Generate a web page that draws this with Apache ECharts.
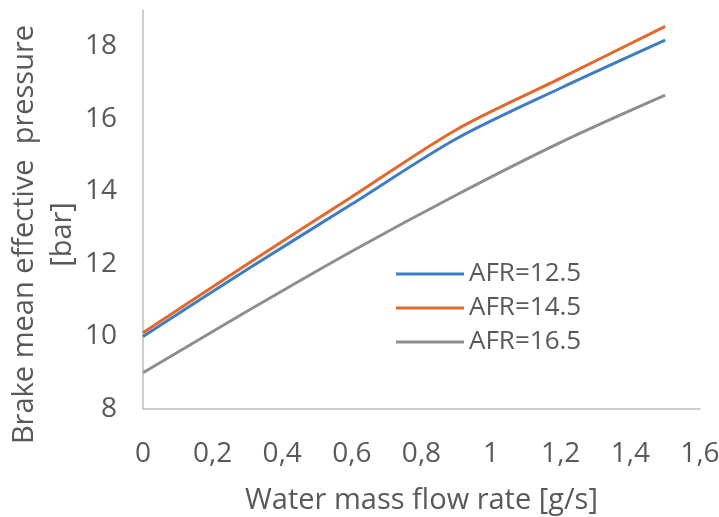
<!DOCTYPE html>
<html>
<head>
<meta charset="utf-8">
<script src="https://cdn.jsdelivr.net/npm/echarts@6/dist/echarts.min.js"></script>
<style>html,body{margin:0;padding:0;background:#fff}#c{width:719px;height:517px}</style>
</head>
<body>
<div id="c"></div>
<script>
const waterFlow = [0, 0.3, 0.6, 0.9, 1.2, 1.5];
const afr125 = [10.0, 11.85, 13.65, 15.45, 16.85, 18.17];
const afr145 = [10.1, 12.0, 13.85, 15.7, 17.12, 18.55];
const afr165 = [9.0, 10.7, 12.35, 13.9, 15.35, 16.65];
const seriesNames = ['AFR=12.5', 'AFR=14.5', 'AFR=16.5'];
const seriesColors = ['#3d7cc6', '#e4682c', '#8e8e8e'];
const xTitle = 'Water mass flow rate [g/s]';
const yTitle = 'Brake mean effective  pressure\n[bar]';

const FONT = 'Open Sans';
const TXT = '#595959';
const pair = (xs, ys) => xs.map((x, i) => [x, ys[i]]);
const allValues = [afr125, afr145, afr165];

const chart = echarts.init(document.getElementById('c'));
chart.setOption({
  animation: false,
  backgroundColor: '#fff',
  grid: { left: 143, top: 10, right: 19, bottom: 108, containLabel: false, outerBoundsMode: 'none' },
  legend: {
    orient: 'vertical',
    left: 391, top: 256,
    icon: 'rect',
    itemWidth: 68, itemHeight: 3, itemGap: 8,
    textStyle: { fontFamily: FONT, fontSize: 26, color: TXT, lineHeight: 26 },
    data: seriesNames
  },
  xAxis: {
    type: 'value', min: 0, max: 1.6, interval: 0.2,
    name: xTitle, nameLocation: 'middle', nameGap: 77, nameMoveOverlap: false,
    nameTextStyle: { fontFamily: FONT, fontSize: 29, color: TXT },
    axisLine: { lineStyle: { color: '#bdbdbd', width: 1.5 } },
    axisTick: { show: false },
    splitLine: { show: false },
    axisLabel: { fontFamily: FONT, fontSize: 28, color: TXT, margin: 31,
      formatter: v => String(+v.toFixed(1)).replace('.', ',') }
  },
  yAxis: {
    type: 'value', min: 8, max: 19, interval: 2,
    name: yTitle, nameLocation: 'middle', nameGap: 61, nameRotate: 90, nameMoveOverlap: false,
    nameTextStyle: { fontFamily: FONT, fontSize: 29, color: TXT, lineHeight: 38, padding: [0, 50, 0, 0] },
    axisLine: { show: true, lineStyle: { color: '#bdbdbd', width: 1.5 } },
    axisTick: { show: false },
    splitLine: { show: false },
    axisLabel: { fontFamily: FONT, fontSize: 28, color: TXT, margin: 26, showMaxLabel: false }
  },
  series: seriesNames.map((n, i) => ({
    name: n, type: 'line', smooth: 0.3, showSymbol: false, symbol: 'none',
    data: pair(waterFlow, allValues[i]),
    lineStyle: { color: seriesColors[i], width: 3 },
    itemStyle: { color: seriesColors[i] }
  }))
});
</script>
</body>
</html>
